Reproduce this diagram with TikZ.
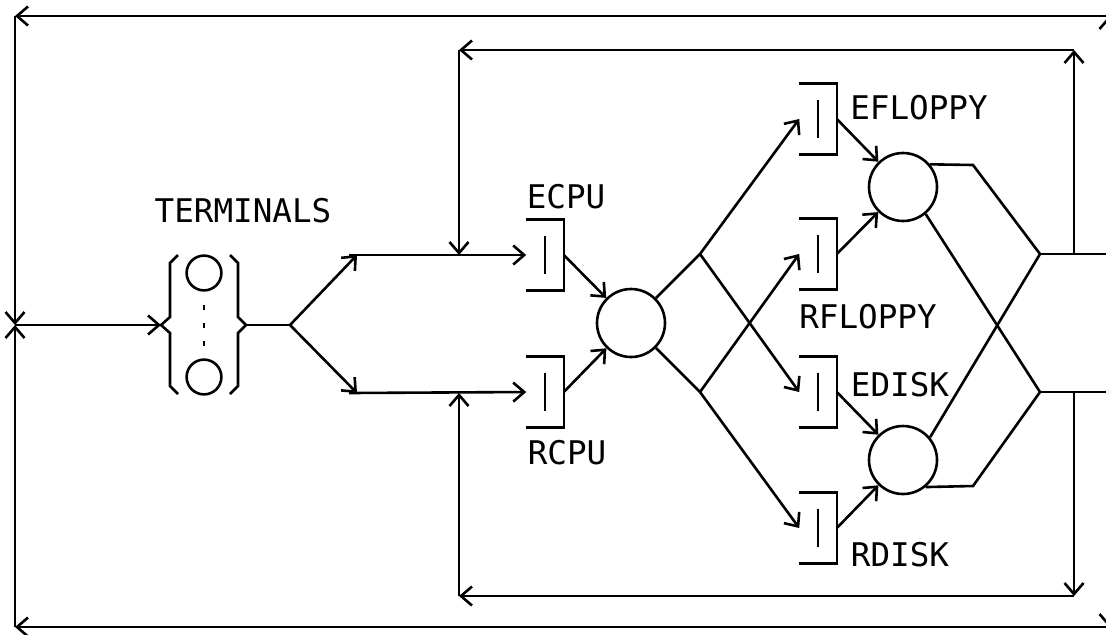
\documentclass[tikz,border=0pt]{standalone}
\usepackage{fontspec}
\setmonofont{DejaVu Sans Mono}
\usetikzlibrary{arrows.meta}

\tikzset{
  server/.style={draw,circle,minimum size=34pt,inner sep=0pt},
  queue/.style={minimum width=17.5pt,minimum height=34pt,inner sep=0pt},
  lbl/.style={font=\ttfamily\fontsize{16.3}{18}\selectfont,inner sep=0pt}
}

\begin{document}
\begin{tikzpicture}[x=0.5pt,y=-0.5pt,>={Straight Barb[length=5.5pt,width=9.5pt]},line width=1.3pt]
\useasboundingbox (0,0) rectangle (1106,634);
\clip (0,0) rectangle (1106,634);

% stations
\node[queue] (ecpu) at (545,255) {};
\node[queue] (rcpu) at (545,392) {};
\node[server] (cpu) at (631,323) {};
\node[queue] (eflop) at (818,119) {};
\node[queue] (rflop) at (818,254) {};
\node[queue] (edisk) at (818,392) {};
\node[queue] (rdisk) at (818,528) {};
\node[server] (flop) at (903,187) {};
\node[server] (disk) at (903,460) {};

\foreach \q in {ecpu,rcpu,eflop,rflop,edisk,rdisk}
  \draw (\q.north west) -- (\q.north east) -- (\q.south east) -- (\q.south west)
        ([yshift=-8pt]\q.north) -- ([yshift=8pt]\q.south);

% terminals
\coordinate (tin) at (161,325);
\coordinate (tout) at (246,325);
\draw (178,255) -- (170,263) -- (170,317) -- (tin) -- (170,333) -- (170,386) -- (178,394);
\draw (230,255) -- (238,263) -- (238,317) -- (tout) -- (238,333) -- (238,386) -- (230,394);
\draw (204,273) circle (8.7pt) (204,377) circle (8.7pt);
\foreach \y in {305,323,341} \draw (204,\y) -- (204,\y+5);

\node[lbl] (tlbl) at (243,211) {TERMINALS};
\node[lbl] (elbl) at (566,197) {ECPU};
\node[lbl] (rlbl) at (567,453) {RCPU};
\node[lbl] (eflbl) at (919,108) {EFLOPPY};
\node[lbl] (rflbl) at (868,317) {RFLOPPY};
\node[lbl] (edlbl) at (900,385) {EDISK};
\node[lbl] (rdlbl) at (900,555) {RDISK};

% junctions
\coordinate (split) at (290,325);
\coordinate (eup) at (357,255);
\coordinate (rdn) at (357,393);
\coordinate (estart) at (349,255);
\coordinate (rstart) at (349,393);
\coordinate (ejoin) at (459,255);
\coordinate (rjoin) at (459,393);
\coordinate (forkA) at (700,254);
\coordinate (forkB) at (700,392);
\coordinate (fbend) at (973,165);
\coordinate (dbend) at (973,486);
\coordinate (outA) at (1040,254);
\coordinate (outB) at (1040,392);
\coordinate (retA) at (1074,254);
\coordinate (retB) at (1074,392);
\coordinate (itl) at (459,50);
\coordinate (itr) at (1074,50);
\coordinate (ibl) at (459,596);
\coordinate (ibr) at (1074,596);
\coordinate (oA) at (1109,254);
\coordinate (oB) at (1109,392);
\coordinate (otl) at (15,16);
\coordinate (otr) at (1109,16);
\coordinate (obl) at (15,627);
\coordinate (obr) at (1109,627);
\coordinate (start) at (15,325);

% flow
\draw[->] (start) -- (tin);
\draw (tout) -- (split);
\draw[->] (split) -- (eup);
\draw[->] (split) -- (rdn);
\draw[->] (estart) -- (ecpu.west);
\draw[->] (rstart) -- (rcpu.west);
\draw[->] (ecpu.east) -- (cpu);
\draw[->] (rcpu.east) -- (cpu);
\draw (cpu) -- (forkA);
\draw (cpu) -- (forkB);
\draw[->] (forkA) -- (eflop.west);
\draw[->] (forkA) -- (edisk.west);
\draw[->] (forkB) -- (rflop.west);
\draw[->] (forkB) -- (rdisk.west);
\draw[->] (eflop.east) -- (flop);
\draw[->] (rflop.east) -- (flop);
\draw[->] (edisk.east) -- (disk);
\draw[->] (rdisk.east) -- (disk);
\draw (flop.40) -- (fbend) -- (outA);
\draw (flop.-50) -- (outB);
\draw (disk.40) -- (outA);
\draw (disk.-50) -- (dbend) -- (outB);
\draw (outA) -- (oA);
\draw (outB) -- (oB);

% inner loop
\draw[->] (retA) -- (itr);
\draw[->] (itr) -- (itl);
\draw[->] (itl) -- (ejoin);
\draw[->] (retB) -- (ibr);
\draw[->] (ibr) -- (ibl);
\draw[->] (ibl) -- (rjoin);

% outer loop
\draw[->] (oA) -- (otr);
\draw[->] (otr) -- (otl);
\draw[->] (otl) -- (start);
\draw[->] (oB) -- (obr);
\draw[->] (obr) -- (obl);
\draw[->] (obl) -- (start);
\end{tikzpicture}
\end{document}
